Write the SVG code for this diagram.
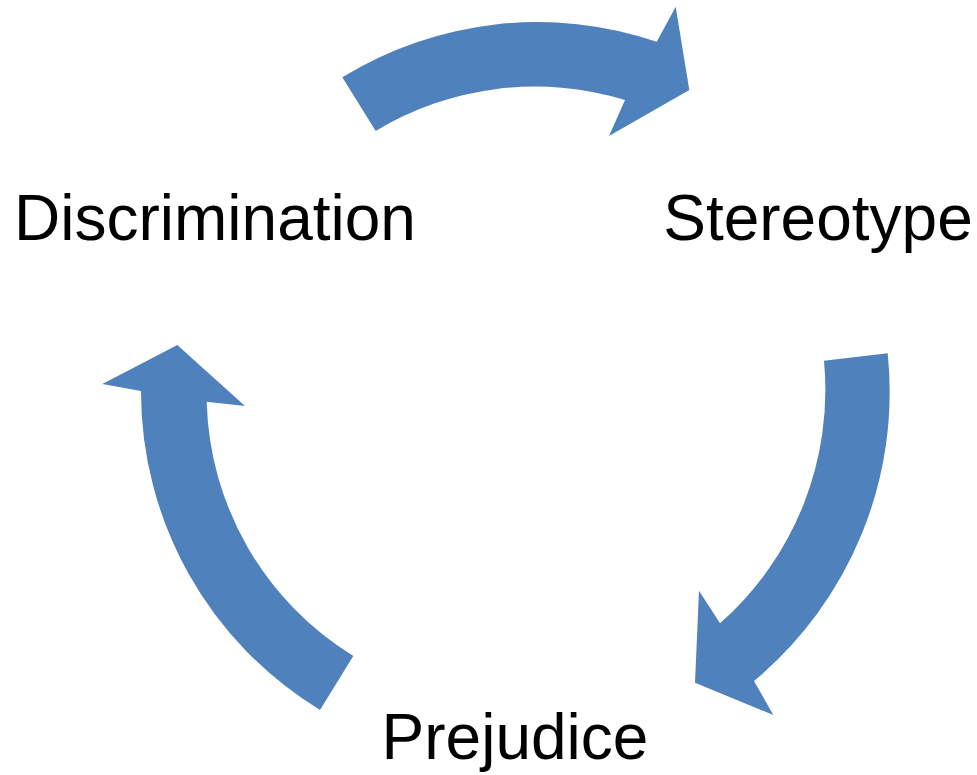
<svg xmlns="http://www.w3.org/2000/svg" width="977" height="775" viewBox="0 0 977 775">
  <style>
    .arrow { fill: #4F81BD; stroke: none; }
    .label { font-family: "Liberation Sans", Arial, sans-serif; font-size: 64px; fill: #000000; text-anchor: middle; }
  </style>
  <rect x="0" y="0" width="977" height="775" fill="#FFFFFF"/>
  <g id="connectors">
    <path id="arrow-discrimination-stereotype" class="arrow" d="M 342.3 77.3 A 372 372 0 0 1 656.7 41.7 L 675.7 6.7 L 689.3 90 L 609 136 L 625 100 A 308 308 0 0 0 375.7 131 Z"/>
    <path id="arrow-stereotype-prejudice" class="arrow" d="M 887.7 353.3 A 376 376 0 0 1 754 681 L 773.3 715 L 695 682.7 L 699 590.7 L 720 623.3 A 311 311 0 0 0 824 360.7 Z"/>
    <path id="arrow-prejudice-discrimination" class="arrow" d="M 320 710 A 373 373 0 0 1 141 391 L 102.3 384 L 177.3 345 L 245 406 L 206.7 401.7 A 308 308 0 0 0 353.3 656 Z"/>
  </g>
  <g id="node-discrimination">
    <text class="label" x="215" y="240">Discrimination</text>
  </g>
  <g id="node-stereotype">
    <text class="label" x="818" y="240">Stereotype</text>
  </g>
  <g id="node-prejudice">
    <text class="label" x="515" y="759">Prejudice</text>
  </g>
</svg>
